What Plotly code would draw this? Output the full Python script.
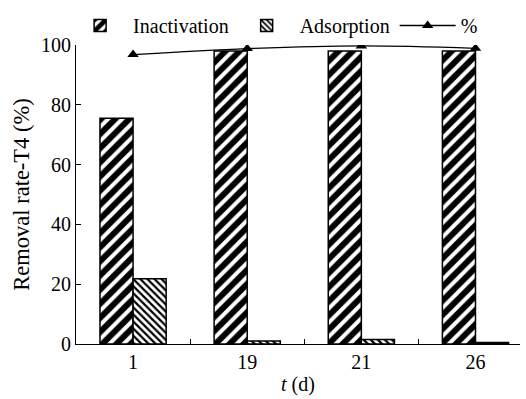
import plotly.graph_objects as go

categories = ["1", "19", "21", "26"]
inactivation = [75.5, 98.0, 98.0, 98.0]
adsorption = [21.8, 1.0, 1.5, 0.5]
percent = [96.8, 98.8, 99.7, 98.9]

FONT = "Liberation Serif"

fig = go.Figure()
fig.add_trace(go.Bar(
    x=categories, y=inactivation, name="Inactivation",
    marker=dict(color="white", line=dict(color="black", width=1.5),
                pattern=dict(shape="/", size=10, solidity=0.6, fgcolor="black",
                             bgcolor="white", fgopacity=1)),
))
fig.add_trace(go.Bar(
    x=categories, y=adsorption, name="Adsorption",
    marker=dict(color="white", line=dict(color="black", width=1.5),
                pattern=dict(shape="\\", size=5, solidity=0.45, fgcolor="black",
                             bgcolor="white", fgopacity=1)),
))
fig.add_trace(go.Scatter(
    x=categories, y=percent, name="%", mode="lines+markers",
    line=dict(color="black", width=1.3, shape="spline"),
    marker=dict(symbol="triangle-up", size=10, color="black"),
))

fig.update_layout(
    width=526, height=399,
    margin=dict(l=76, r=6, t=42, b=55),
    paper_bgcolor="white", plot_bgcolor="white",
    font=dict(family=FONT, size=20, color="black"),
    barmode="group", bargap=0.42, bargroupgap=0,
    showlegend=True,
    legend=dict(orientation="h", x=-0.02, xanchor="left", y=1.0, yanchor="bottom",
                font=dict(family=FONT, size=20, color="black"), bgcolor="rgba(0,0,0,0)",
                traceorder="normal", itemwidth=56, tracegroupgap=0),
)
fig.update_xaxes(
    type="category", range=[-0.5, 3.39],
    showline=True, linecolor="black", linewidth=1,
    ticks="inside", tickson="boundaries", ticklen=5, tickcolor="black",
    showgrid=False, zeroline=False,
    title=dict(text="<i>t</i> (d)", font=dict(family=FONT, size=20, color="black"), standoff=4),
    tickfont=dict(family=FONT, size=20, color="black"),
)
fig.update_yaxes(
    range=[0, 100], tickvals=[0, 20, 40, 60, 80, 100],
    showline=True, linecolor="black", linewidth=1,
    ticks="inside", ticklen=5, tickcolor="black",
    showgrid=False, zeroline=False,
    title=dict(text="Removal rate-T4 (%)", font=dict(family=FONT, size=22.5, color="black"), standoff=5),
    tickfont=dict(family=FONT, size=20, color="black"),
)

fig.write_html("out.html")
